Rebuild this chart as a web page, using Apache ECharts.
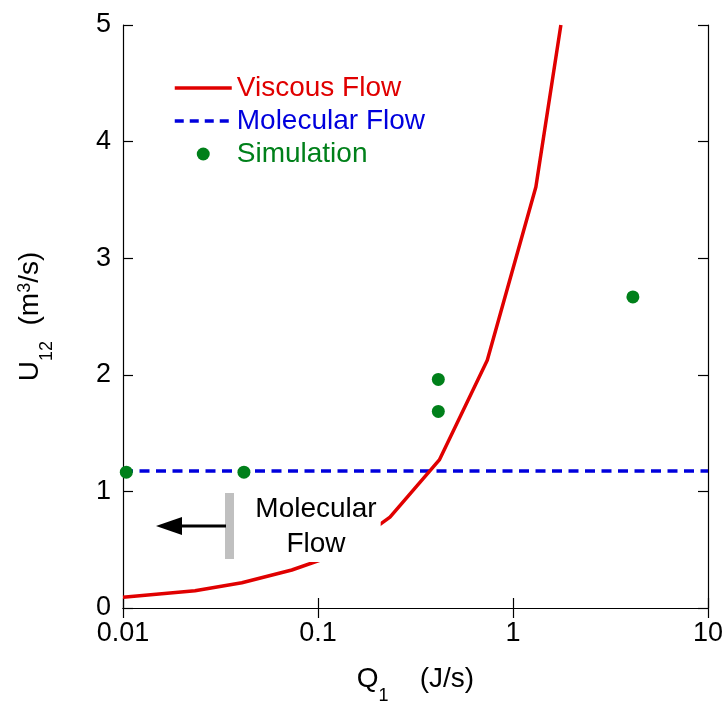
<!DOCTYPE html>
<html>
<head>
<meta charset="utf-8">
<script src="https://cdn.jsdelivr.net/npm/echarts@6/dist/echarts.min.js"></script>
<style>
html,body{margin:0;padding:0;background:#fff;}
#c{width:726px;height:706px;}
</style>
</head>
<body>
<div id="c"></div>
<script>
// Data
const viscousQ = [0.01, 0.0234, 0.0407, 0.0734, 0.13, 0.234, 0.419, 0.738, 1.31, 1.76];
const viscousU = [0.092, 0.148, 0.217, 0.326, 0.47, 0.78, 1.27, 2.125, 3.61, 5.0];
const molecularQ = [0.01, 10];
const molecularU = [1.175, 1.175];
const simQ = [0.0104, 0.0417, 0.414, 0.414, 4.12];
const simU = [1.165, 1.165, 1.96, 1.686, 2.668];
const xTickLabels = ['0.01', '0.1', '1', '10'];
const yTickLabels = ['0', '1', '2', '3', '4', '5'];
const seriesNames = ['Viscous Flow', 'Molecular Flow', 'Simulation'];

const RED = '#e00000', BLUE = '#0000dd', GREEN = '#00801a';
const FONT = 'Liberation Sans, Arial, sans-serif';

const chart = echarts.init(document.getElementById('c'));
const zip = (a, b) => a.map((v, i) => [v, b[i]]);

function xFmt(v) {
  const idx = Math.round(Math.log10(v) + 2);
  return xTickLabels[idx] !== undefined ? xTickLabels[idx] : '';
}
function yFmt(v) {
  const idx = Math.round(v);
  return yTickLabels[idx] !== undefined ? yTickLabels[idx] : '';
}

const axisLine = { show: true, lineStyle: { color: '#000', width: 1.2 } };
const axisTick = { show: true, inside: true, length: 10, lineStyle: { color: '#000', width: 1.2 } };

chart.setOption({
  animation: false,
  backgroundColor: '#fff',
  textStyle: { fontFamily: FONT },
  grid: { left: 123, right: 18, top: 25, bottom: 98, containLabel: false, outerBoundsMode: 'none' },
  legend: {
    orient: 'vertical',
    left: 173,
    top: 74,
    padding: 0,
    itemWidth: 57,
    itemHeight: 13,
    itemGap: 5,
    textStyle: { fontSize: 28, fontFamily: FONT },
    data: [
      { name: seriesNames[0], textStyle: { color: RED }, itemStyle: { opacity: 0 },
        lineStyle: { width: 3.5, color: RED } },
      { name: seriesNames[1], textStyle: { color: BLUE }, itemStyle: { opacity: 0 },
        lineStyle: { width: 3.5, color: BLUE, type: [9, 6] } },
      { name: seriesNames[2], textStyle: { color: GREEN } }
    ]
  },
  xAxis: [{
    type: 'log', logBase: 10, min: 0.01, max: 10,
    axisLine, axisTick,
    splitLine: { show: false }, minorTick: { show: false },
    axisLabel: { formatter: xFmt, fontSize: 27, color: '#000', margin: 12, fontFamily: FONT },
    name: '{a|Q}{s|1}{a|    (J/s)}',
    nameLocation: 'middle', nameGap: 57,
    nameTextStyle: {
      rich: {
        a: { fontSize: 28, color: '#000', fontFamily: FONT, lineHeight: 30, verticalAlign: 'top' },
        s: { fontSize: 18, color: '#000', fontFamily: FONT, lineHeight: 40, verticalAlign: 'bottom' }
      }
    }
  }, {
    type: 'log', logBase: 10, min: 0.01, max: 10, position: 'top',
    axisLine, axisTick, axisLabel: { show: false }, splitLine: { show: false }
  }],
  yAxis: [{
    type: 'value', min: 0, max: 5, interval: 1,
    axisLine, axisTick,
    splitLine: { show: false },
    axisLabel: { formatter: yFmt, fontSize: 27, color: '#000', margin: 12, fontFamily: FONT },
    name: '{a|U}{s|12}{a|  (m}{p|3}{a|/s)}',
    nameLocation: 'middle', nameGap: 67, nameRotate: 90,
    nameTextStyle: {
      rich: {
        a: { fontSize: 28, color: '#000', fontFamily: FONT, lineHeight: 30, verticalAlign: 'top' },
        s: { fontSize: 18, color: '#000', fontFamily: FONT, lineHeight: 40, verticalAlign: 'bottom' },
        p: { fontSize: 18, color: '#000', fontFamily: FONT, lineHeight: 18, verticalAlign: 'top' }
      }
    }
  }, {
    type: 'value', min: 0, max: 5, interval: 1, position: 'right',
    axisLine, axisTick, axisLabel: { show: false }, splitLine: { show: false }
  }],
  series: [{
    name: seriesNames[0], type: 'line', data: zip(viscousQ, viscousU),
    symbol: 'none', showSymbol: false, clip: true,
    lineStyle: { color: RED, width: 3.5 }, itemStyle: { color: RED }, z: 3
  }, {
    name: seriesNames[1], type: 'line', data: zip(molecularQ, molecularU),
    symbol: 'none', showSymbol: false,
    lineStyle: { color: BLUE, width: 3.5, type: [10, 6.5] }, itemStyle: { color: BLUE }, z: 2
  }, {
    name: seriesNames[2], type: 'scatter', data: zip(simQ, simU),
    symbol: 'circle', symbolSize: 13,
    itemStyle: { color: GREEN, opacity: 1 }, z: 4
  }],
  graphic: [
    { type: 'rect', z: 100, shape: { x: 225, y: 493, width: 9, height: 66 }, style: { fill: '#c0c0c0' } },
    { type: 'line', z: 100, shape: { x1: 226, y1: 526, x2: 175, y2: 526 }, style: { stroke: '#000', lineWidth: 3 } },
    { type: 'polygon', z: 100, shape: { points: [[156, 526], [182, 517], [182, 535]] }, style: { fill: '#000' } },
    { type: 'text', z: 100, x: 316, y: 527,
      style: { text: 'Molecular\nFlow', font: '28px ' + FONT, fill: '#000', align: 'center', verticalAlign: 'middle',
               lineHeight: 35, backgroundColor: '#fff', padding: [0, 4, 0, 4] } }
  ]
});
</script>
</body>
</html>
